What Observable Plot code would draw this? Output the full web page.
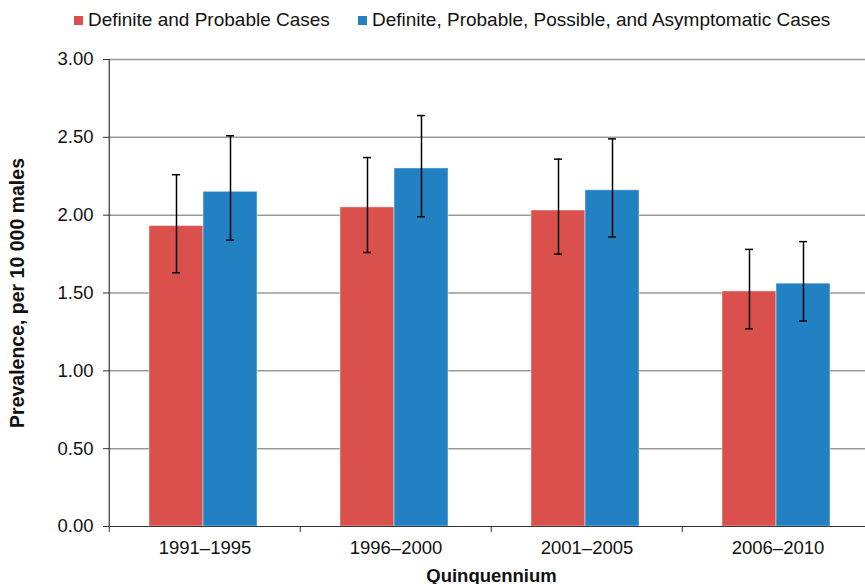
<!DOCTYPE html>
<html>
<head>
<meta charset="utf-8">
<script src="https://cdn.jsdelivr.net/npm/d3@7"></script>
<script src="https://cdn.jsdelivr.net/npm/@observablehq/plot@0.6"></script>
<style>
  html, body { margin: 0; padding: 0; background: #fff; }
  body { width: 865px; height: 584px; overflow: hidden; font-family: "Liberation Sans", Arial, sans-serif; }
  #legend { position: relative; height: 40px; font-size: 19px; color: #111; }
  #legend .item { position: absolute; top: 9px; display: flex; align-items: center; white-space: nowrap; }
  #legend .sw { width: 9px; height: 9px; margin-right: 5px; }
  #chart { width: 874px; height: 544px; }
  #chart svg { max-width: none !important; width: 874px !important; height: 544px !important; display: block; }
  #chart svg [aria-label="y-axis label"], #chart svg [aria-label="fx-axis label"] { font-weight: bold; }
  #chart svg [aria-label="y-axis label"] { font-size: 19.5px; }
</style>
</head>
<body>
<div id="legend"></div>
<div id="chart"></div>
<script>
const groups = ["1991–1995", "1996–2000", "2001–2005", "2006–2010"];
const series = ["Definite and Probable Cases", "Definite, Probable, Possible, and Asymptomatic Cases"];
const colors = ["#D9504C", "#2281C3"];
const defProb   = [1.93, 2.05, 2.03, 1.51];
const defProbLo = [1.63, 1.76, 1.75, 1.27];
const defProbHi = [2.26, 2.37, 2.36, 1.78];
const allCases   = [2.15, 2.30, 2.16, 1.56];
const allCasesLo = [1.84, 1.99, 1.86, 1.32];
const allCasesHi = [2.51, 2.64, 2.49, 1.83];
const yTicks = [0, 0.5, 1, 1.5, 2, 2.5, 3];

const rows = [];
groups.forEach((g, i) => {
  rows.push({group: g, series: series[0], value: defProb[i], lo: defProbLo[i], hi: defProbHi[i]});
  rows.push({group: g, series: series[1], value: allCases[i], lo: allCasesLo[i], hi: allCasesHi[i]});
});

// legend
const legend = document.getElementById("legend");
const lefts = [74, 358];
series.forEach((s, i) => {
  const it = document.createElement("div");
  it.className = "item";
  it.style.left = lefts[i] + "px";
  it.innerHTML = `<span class="sw" style="background:${colors[i]}"></span><span>${s}</span>`;
  legend.appendChild(it);
});

const plotH = 544, mTop = 19, mBottom = 58;
const shift = -2;
const chart = Plot.plot({
  width: 874,
  height: plotH,
  marginTop: mTop,
  marginBottom: mBottom,
  marginLeft: 108,
  marginRight: 0,
  style: {fontFamily: "Liberation Sans, Arial, sans-serif", fontSize: "18.5px", color: "#111", overflow: "visible"},
  fx: {domain: groups, paddingInner: 0, paddingOuter: 0},
  x: {domain: series, paddingInner: 0, paddingOuter: 0.757, axis: null},
  y: {domain: [0, 3]},
  color: {domain: series, range: colors},
  marks: [
    Plot.ruleY(yTicks.filter(d => d > 0), {stroke: "#999", strokeWidth: 1.5}),
    Plot.barY(rows, {fx: "group", x: "series", y: "value", fill: "series", stroke: "#fff", strokeOpacity: 0.45, strokeWidth: 1, dx: shift}),
    Plot.ruleX(rows, {fx: "group", x: "series", y1: "lo", y2: "hi", stroke: "#000", strokeWidth: 1.5, dx: shift}),
    Plot.tickY(rows, {fx: "group", x: "series", y: "lo", stroke: "#000", strokeWidth: 1.5, insetLeft: 23, insetRight: 23, dx: shift}),
    Plot.tickY(rows, {fx: "group", x: "series", y: "hi", stroke: "#000", strokeWidth: 1.5, insetLeft: 23, insetRight: 23, dx: shift}),
    Plot.ruleY([0], {stroke: "#333", strokeWidth: 1.2}),
    Plot.axisFx({anchor: "bottom", tickSize: 0, tickPadding: 14, fontSize: 18.5, label: "Quinquennium", labelAnchor: "center", labelOffset: 55, labelArrow: "none"}),
    Plot.axisFx({anchor: "bottom", text: null, tickSize: 6, dx: -95.75, stroke: "#333", label: null}),
    Plot.axisFx({anchor: "bottom", ticks: [groups[0]], text: null, tickSize: -(plotH - mTop - mBottom), dx: -95.75, stroke: "#333", strokeWidth: 1.2, label: null}),
    Plot.axisY({ticks: yTicks, tickFormat: d3.format(".2f"), tickSize: 6, tickPadding: 10, fontSize: 18.5, stroke: "#333",
      label: "Prevalence, per 10 000 males", labelAnchor: "center", labelOffset: 99, labelArrow: "none"})
  ]
});
document.getElementById("chart").appendChild(chart);
</script>
</body>
</html>
